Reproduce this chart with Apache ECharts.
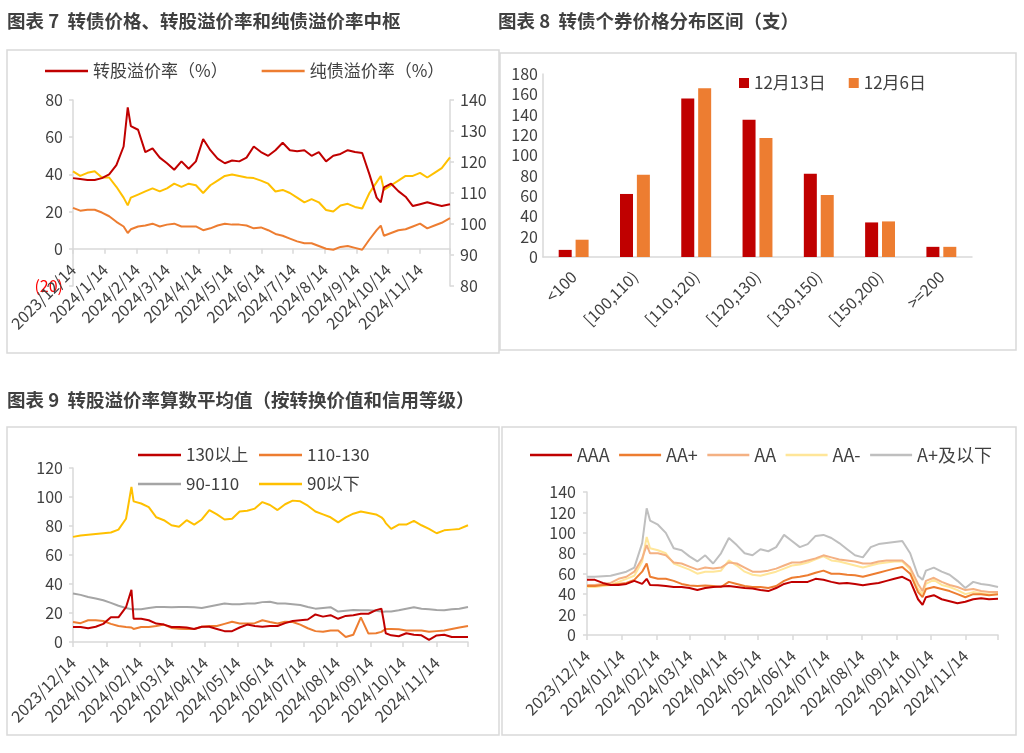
<!DOCTYPE html>
<html>
<head>
<meta charset="utf-8">
<script src="https://cdn.jsdelivr.net/npm/echarts/dist/echarts.min.js"></script>
<style>
html,body{margin:0;padding:0;background:#fff;}
#c{width:1024px;height:753px;}
</style>
</head>
<body>
<div id="c"></div>
<script>
// ===== Shared date axis: calendar days 2023-12-14 .. 2024-12-13 =====
const START_DATE = '2023-12-14';
const N_DAYS = 366;

// ===== 图表7 (sample days = day offsets after 2023-12-14) =====
const c7Days = [0,7,14,21,28,35,42,49,53,56,63,70,77,84,91,98,105,112,119,126,133,140,147,154,161,168,175,182,189,196,203,210,217,224,231,238,245,252,259,266,273,280,287,294,298,301,308,315,322,329,336,343,350,357,365];
const c7ConvPremium = [38,37.5,37,37,38,40,45,55,76,66,64,52,54,49,46,42.5,47,43,47,59,53,48.5,46,47.5,47,49,55,52,50,53,57,53,52.5,53,50,52,47,50,51,53,52,51.5,40,27.5,25,33,35,31,28,23,24,25,24,23,24];
const c7BondPremium = [22,20.5,21,21,19.5,17.5,14.5,12,8.5,10.5,12,12.5,13.5,12,13,13.5,12,12,12,10,11,12.5,13.5,13,13,12.5,11,11.5,10,8,7,5.5,4,3,3,1.5,0,-0.5,1,1.5,0.5,-0.5,5,10,12.5,7,8.5,10,10.5,12,13.5,11,12.5,14,16.5];
const c7Price = [117,115.5,116.5,117,115,115,112,108.5,106,108.5,109.5,110.5,111.5,110.5,111.5,113,112,113,112.5,110,112.5,114,115.5,116,115.5,115,114.8,114,113,110.5,111,110,108.5,107,108,107,104.5,104,106,106.5,105.5,105,110,113.5,115.5,111,112.5,114,115.5,115.5,116.5,115,116.5,118,121.5];

// ===== 图表8 =====
const c8Bins = ['<100','[100,110)','[110,120)','[120,130)','[130,150)','[150,200)','>=200'];
const c8Dec13 = [7,62,156,135,82,34,10];
const c8Dec6 = [17,81,166,117,61,35,10];

// ===== 图表9 =====
const c9Days = [0,7,14,21,28,35,42,49,54,56,63,70,77,84,91,98,105,112,119,126,133,140,147,154,161,168,175,182,189,196,203,210,217,224,231,238,245,252,259,266,273,280,285,287,289,294,301,308,315,322,329,336,343,350,357,365];
const c9Above130 = [10.4,10.4,9.5,10.5,12.5,17,17,24,36,16,16,15,12.7,12,10.4,10.4,10,9,10.5,10.5,9,7.5,7.5,10,12,11,10.5,11,11,13,14.5,15,15.5,19,17.5,18.5,16,18,18.5,19.5,19.5,22,23,15,6,4.6,4,6,5,4.6,1.5,4.5,5,3.5,3.5,3.5];
const c9From110 = [13.8,13,15,15,14.5,12.5,11,10.4,10,9,10.4,10.4,11,12,9.7,9.2,9,9,10.5,11,11,12.5,14,12.7,12.7,13,15,13.8,12.7,14,13.8,12,9.5,7.5,7,8,8,3.5,5,17,5.8,6,7,8,9,9,8.8,8,8,8,7,7.5,8,9,10,11];
const c9From90 = [33.5,32.5,31,30,28.8,27,25,23.5,22.6,22.6,22.6,23.5,24.2,24.2,24,24.2,24.2,24,23.5,24.5,25.5,26.5,26,26,26.5,26.5,27.5,27.7,26.5,26.5,26,25.5,24.2,23,23.5,24,21,21.5,22,21.9,21.9,21.5,21,20.8,21,21,21.9,23,24,23,22.6,22,21.9,22.6,23,24.2];
const c9Below90 = [72.5,73.5,74,74.5,75,75.5,77.5,85,107,97,95.5,93,86,84,80.5,79.5,84,81,84.5,91,88,84.5,85,90,90.5,92,96.5,94.5,91,95,97.5,97,94,90,88,86,82.5,86,88.5,90,89,88,86,84.5,82,78,81,81,83.5,80.5,78,75,77,77.5,78,80.5];

// ===== 图表10 =====
const c10Days = [0,7,14,21,28,35,42,49,53,56,63,70,77,84,91,98,105,112,119,126,133,140,147,154,161,168,175,182,189,196,203,210,217,224,231,238,245,252,259,266,273,280,287,294,298,301,308,315,322,329,336,343,350,357,365];
const c10AAA = [54,54,51,49,49,50,53,50,55,49,48.8,48,47,47,46,44,46,47,47.5,48,47,46,45.6,44,43,46,50,52,52,52,55,54,52,50.5,51,50,48.8,50,51,53,55,57,53,35,29.5,37,39,35,33,31,32.5,35,36,35,35.5];
const c10AAplus = [48,48,49,49,50,51,54,62,70,57,55,55,53,50,48.5,48,48.5,48,47,52,50,48,47,47,46,48,53,56,57,58.5,61,63,60,60,59,58.5,57,59,61,63,65,66.5,60,42,37,45,47,45,43,40,37,40,40,39,40];
const c10AA = [49,49,50,51,55,57,62,75,88,80,80,78,71,70,67,64,66,65,66,71,70,66,62,62,63,65,68,71,71,73,75,78,76,74,73,72,70,70,72,73,73,73,66,50,43,53,56,52,49,47,44,45,43,42,42];
const c10AAminus = [47,47,48,49,52,55,58,72,96,85,83,80,70,67,64,60,62,62,63,73,68,62,59,58,60,62,65,68,69,71,74,77,73,72,70,68,66,68,70,71,72,72,64,45,40,50,54,49,47,44,40,42,41,40,40];
const c10Aplus = [57,57,57.5,58,60,62,66,90,124,112,108,100,85,83,77,72,78,70,80,95,88,80,78,84,82,86,98,92,86,89,97,98,95,90,84,78,76,86,89,90,91,92,80,58,54,63,66,62,59,53,46,52,50,49,47];

// ===== helpers =====
const dateCats = [];
(function(){
  const t0 = Date.parse(START_DATE + 'T00:00:00Z');
  for (let i = 0; i < N_DAYS; i++) dateCats.push(new Date(t0 + i * 86400000).toISOString().slice(0, 10));
})();
const isMonthTick = (idx, val) => val.slice(8) === '14';
const tickWithEnd = (idx, val) => val.slice(8) === '14' || idx === N_DAYS - 1;
const fmtShort = v => { const p = v.split('-'); return p[0] + '/' + (+p[1]) + '/' + p[2]; };
const fmtPad = v => v.split('-').join('/');
const pairs = (days, vals) => days.map((d, i) => [dateCats[d], vals[i]]);

const AX = '#d9d9d9';
const TXT = '#404040';
const FONT = '"Noto Sans CJK SC", "Noto Sans", sans-serif';

function dateXAxis(grid, fmt, margin) {
  return {
    gridIndex: grid, type: 'category', data: dateCats, boundaryGap: false,
    axisLine: { show: true, onZero: true, lineStyle: { color: AX, width: 1.5 } },
    axisTick: { show: true, interval: tickWithEnd, length: 5, lineStyle: { color: AX, width: 1.5 } },
    axisLabel: { interval: isMonthTick, rotate: 45, formatter: fmt, fontSize: 16, margin: margin, color: TXT, fontFamily: FONT },
    splitLine: { show: false }
  };
}
function valYAxis(grid, min, max, step, extra) {
  return Object.assign({
    gridIndex: grid, type: 'value', min: min, max: max, interval: step,
    splitLine: { show: false },
    axisLine: { show: true, lineStyle: { color: AX, width: 1.5 } },
    axisTick: { show: true, length: 4, lineStyle: { color: AX, width: 1.5 } },
    axisLabel: { fontSize: 16, color: TXT, margin: 10, fontFamily: FONT }
  }, extra || {});
}
function line(name, x, y, data, color) {
  return { name: name, type: 'line', xAxisIndex: x, yAxisIndex: y, data: data, symbol: 'none',
           lineStyle: { color: color, width: 2 }, itemStyle: { color: color } };
}

const chart = echarts.init(document.getElementById('c'));
const titleStyle = { fontSize: 18.5, fontWeight: 'bold', color: TXT, fontFamily: FONT };
const legendText = { fontSize: 17, color: TXT, fontFamily: FONT, lineHeight: 20 };

chart.setOption({
  animation: false,
  backgroundColor: '#fff',
  textStyle: { fontFamily: FONT },
  title: [
    { text: '图表 7  转债价格、转股溢价率和纯债溢价率中枢', left: 7, top: 12, padding: 0, textStyle: titleStyle },
    { text: '图表 8  转债个券价格分布区间（支）', left: 498, top: 12, padding: 0, textStyle: titleStyle },
    { text: '图表 9  转股溢价率算数平均值（按转换价值和信用等级）', left: 7, top: 391, padding: 0, textStyle: titleStyle }
  ],
  graphic: [
    { type: 'rect', shape: { x: 7, y: 50, width: 492, height: 303 }, style: { fill: 'none', stroke: AX, lineWidth: 1.5 }, silent: true },
    { type: 'rect', shape: { x: 500, y: 53, width: 516, height: 297 }, style: { fill: 'none', stroke: AX, lineWidth: 1.5 }, silent: true },
    { type: 'rect', shape: { x: 7, y: 427, width: 492, height: 308 }, style: { fill: 'none', stroke: AX, lineWidth: 1.5 }, silent: true },
    { type: 'rect', shape: { x: 502, y: 427, width: 514, height: 308 }, style: { fill: 'none', stroke: AX, lineWidth: 1.5 }, silent: true }
  ],
  legend: [
    { data: ['转股溢价率（%）', '纯债溢价率（%）'], left: 45, top: 61, padding: 0, icon: 'rect', itemWidth: 43, itemHeight: 2.5, itemGap: 34, textStyle: legendText },
    { data: ['12月13日', '12月6日'], left: 739, top: 73, padding: 0, icon: 'rect', itemWidth: 10, itemHeight: 10, itemGap: 23, textStyle: legendText },
    { data: ['130以上', '110-130', '90-110', '90以下'], left: 138, top: 445, width: 245, padding: 0, icon: 'rect', itemWidth: 43, itemHeight: 2.5, itemGap: 9,
      formatter: '{w|{name}}', textStyle: Object.assign({ rich: { w: { width: 64, fontSize: 17, color: TXT, fontFamily: FONT } } }, legendText) },
    { data: ['AAA', 'AA+', 'AA', 'AA-', 'A+及以下'], left: 530, top: 445, padding: 0, icon: 'rect', itemWidth: 42, itemHeight: 2.5, itemGap: 9.5,
      textStyle: Object.assign({}, legendText, { fontSize: 18 }) }
  ],
  grid: [
    { left: 73, top: 100, width: 377, height: 186 },
    { left: 543, top: 74, width: 429, height: 183 },
    { left: 73, top: 468, width: 395, height: 174 },
    { left: 587, top: 492, width: 411, height: 143 }
  ],
  xAxis: [
    dateXAxis(0, fmtShort, -19),
    { gridIndex: 1, type: 'category', data: c8Bins,
      axisLine: { show: true, lineStyle: { color: AX, width: 1.5 } }, axisTick: { show: false },
      axisLabel: { interval: 0, rotate: 45, fontSize: 16, margin: 17, color: TXT, fontFamily: FONT } },
    dateXAxis(2, fmtPad, 18),
    dateXAxis(3, fmtPad, 18)
  ],
  yAxis: [
    valYAxis(0, -20, 80, 20, { axisLabel: { fontSize: 16, color: TXT, margin: 10, fontFamily: FONT,
      formatter: v => v < 0 ? '{neg|(' + (-v) + ')}' : String(v), rich: { neg: { color: '#ff0000', fontSize: 16, fontFamily: FONT } } } }),
    valYAxis(0, 80, 140, 10, { position: 'right', axisLabel: { fontSize: 16, color: TXT, margin: 10, fontFamily: FONT } }),
    valYAxis(1, 0, 180, 20, { axisTick: { show: false }, axisLabel: { fontSize: 16, color: TXT, margin: 5, fontFamily: FONT } }),
    valYAxis(2, 0, 120, 20),
    valYAxis(3, 0, 140, 20, { axisLabel: { fontSize: 16, color: TXT, margin: 11, fontFamily: FONT } })
  ],
  series: [
    line('纯债溢价率（%）', 0, 0, pairs(c7Days, c7BondPremium), '#ED7D31'),
    line('转债价格', 0, 1, pairs(c7Days, c7Price), '#FFC000'),
    line('转股溢价率（%）', 0, 0, pairs(c7Days, c7ConvPremium), '#C00000'),

    { name: '12月13日', type: 'bar', xAxisIndex: 1, yAxisIndex: 2, data: c8Dec13, barWidth: 13, barGap: '30%', itemStyle: { color: '#C00000' } },
    { name: '12月6日', type: 'bar', xAxisIndex: 1, yAxisIndex: 2, data: c8Dec6, barWidth: 13, barGap: '30%', itemStyle: { color: '#ED7D31' } },

    line('90-110', 2, 3, pairs(c9Days, c9From90), '#A5A5A5'),
    line('90以下', 2, 3, pairs(c9Days, c9Below90), '#FFC000'),
    line('110-130', 2, 3, pairs(c9Days, c9From110), '#ED7D31'),
    line('130以上', 2, 3, pairs(c9Days, c9Above130), '#C00000'),

    line('A+及以下', 3, 4, pairs(c10Days, c10Aplus), '#BFBFBF'),
    line('AA-', 3, 4, pairs(c10Days, c10AAminus), '#FFE699'),
    line('AA', 3, 4, pairs(c10Days, c10AA), '#F4B183'),
    line('AA+', 3, 4, pairs(c10Days, c10AAplus), '#ED7D31'),
    line('AAA', 3, 4, pairs(c10Days, c10AAA), '#C00000')
  ]
});
</script>
</body>
</html>
